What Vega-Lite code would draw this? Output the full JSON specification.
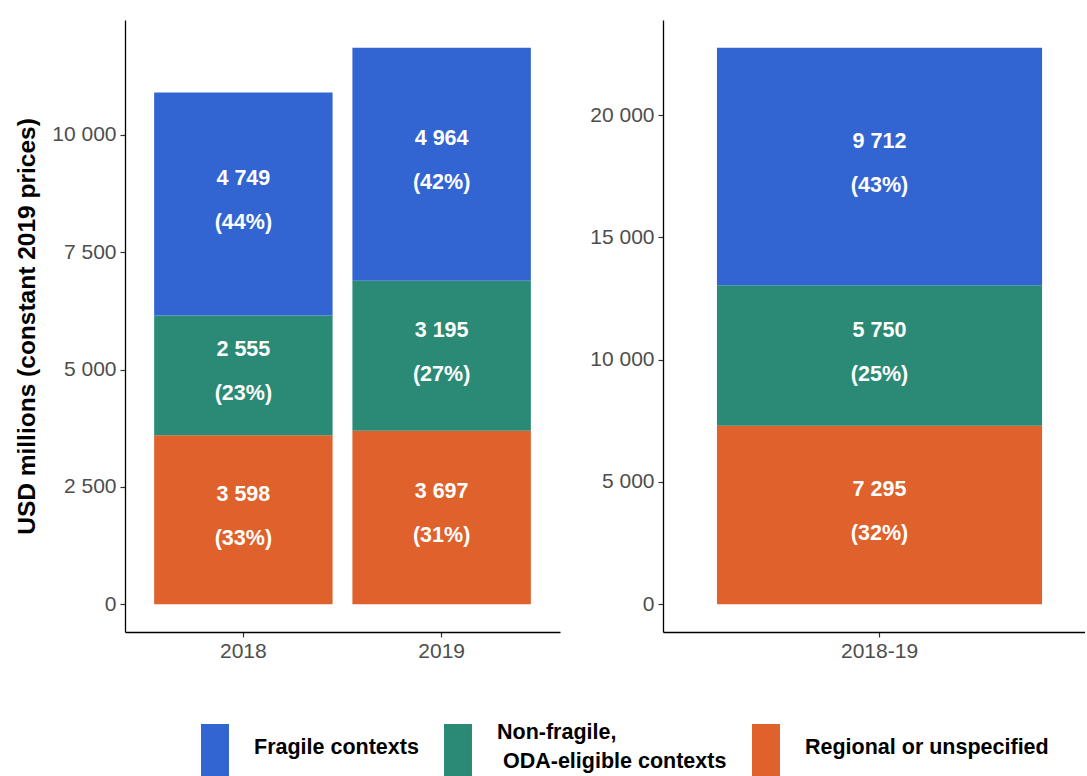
{
  "$schema": "https://vega.github.io/schema/vega-lite/v6.json",
  "autosize": {"type": "pad"},
  "padding": {"left": 14, "top": 20, "right": 0, "bottom": 0},
  "background": "white",
  "datasets": {
    "years": [
      {"period": "2018", "category": "Regional or unspecified", "value": 3598, "share": "(33%)"},
      {"period": "2018", "category": "Non-fragile, ODA-eligible contexts", "value": 2555, "share": "(23%)"},
      {"period": "2018", "category": "Fragile contexts", "value": 4749, "share": "(44%)"},
      {"period": "2019", "category": "Regional or unspecified", "value": 3697, "share": "(31%)"},
      {"period": "2019", "category": "Non-fragile, ODA-eligible contexts", "value": 3195, "share": "(27%)"},
      {"period": "2019", "category": "Fragile contexts", "value": 4964, "share": "(42%)"}
    ],
    "total": [
      {"period": "2018-19", "category": "Regional or unspecified", "value": 7295, "share": "(32%)"},
      {"period": "2018-19", "category": "Non-fragile, ODA-eligible contexts", "value": 5750, "share": "(25%)"},
      {"period": "2018-19", "category": "Fragile contexts", "value": 9712, "share": "(43%)"}
    ]
  },
  "spacing": 103,
  "bounds": "flush",
  "resolve": {"scale": {"color": "shared", "y": "independent", "x": "independent"}, "legend": {"color": "shared"}},
  "hconcat": [
    {
      "width": 435,
      "height": 612,
      "data": {"name": "years"},
      "transform": [
        {"stack": "value", "groupby": ["period"], "sort": [{"field": "category", "order": "descending"}], "as": ["y0", "y1"]},
        {"calculate": "(datum.y0 + datum.y1) / 2", "as": "mid"}
      ],
      "encoding": {
        "x": {"field": "period", "type": "nominal", "title": null,
              "scale": {"paddingInner": 0.1, "paddingOuter": 0.147},
              "axis": {"labelAngle": 0}}
      },
      "layer": [
        {
          "mark": {"type": "bar", "strokeWidth": 0},
          "encoding": {
            "y": {"field": "y0", "type": "quantitative", "title": "USD millions (constant 2019 prices)",
                  "scale": {"domain": [-593, 12449], "nice": false, "zero": false},
                  "axis": {"values": [0, 2500, 5000, 7500, 10000], "format": ",d"}},
            "y2": {"field": "y1"},
            "color": {"field": "category", "type": "nominal",
                      "scale": {"domain": ["Fragile contexts", "Non-fragile, ODA-eligible contexts", "Regional or unspecified"],
                                "range": ["#3265D2", "#2A8A76", "#DF612B"]},
                      "legend": {"orient": "none", "legendX": 64, "legendY": 698, "direction": "horizontal", "columns": 3,
                                 "title": null, "symbolType": "M-0.538,-0.77H0.538V1.23H-0.538Z", "symbolSize": 2704,
                                 "symbolStrokeWidth": 0, "symbolOpacity": 1, "labelFont": "Liberation Sans",
                                 "labelFontSize": 21.5, "labelFontWeight": "bold", "labelColor": "black",
                                 "labelBaseline": "bottom",
                                 "labelOffset": 13, "columnPadding": 13, "labelLimit": 400, "padding": 0,
                                 "labelExpr": "datum.label == 'Non-fragile, ODA-eligible contexts' ? ['Non-fragile,', '\u200b', '\u200b\u00a0ODA-eligible contexts'] : ['\u200b', datum.label, '\u200b']"}}
          }
        },
        {
          "mark": {"type": "text", "dy": -25, "color": "white", "fontWeight": "bold", "fontSize": 21.5, "font": "Liberation Sans", "baseline": "middle", "align": "center"},
          "encoding": {
            "y": {"field": "mid", "type": "quantitative", "title": "USD millions (constant 2019 prices)"},
            "text": {"field": "value", "type": "quantitative", "format": ",d"}
          }
        },
        {
          "mark": {"type": "text", "dy": 19, "color": "white", "fontWeight": "bold", "fontSize": 21.5, "font": "Liberation Sans", "baseline": "middle", "align": "center"},
          "encoding": {
            "y": {"field": "mid", "type": "quantitative", "title": "USD millions (constant 2019 prices)"},
            "text": {"field": "share", "type": "nominal"}
          }
        }
      ]
    },
    {
      "width": 422,
      "height": 612,
      "data": {"name": "total"},
      "transform": [
        {"stack": "value", "groupby": ["period"], "sort": [{"field": "category", "order": "descending"}], "as": ["y0", "y1"]},
        {"calculate": "(datum.y0 + datum.y1) / 2", "as": "mid"}
      ],
      "encoding": {
        "x": {"field": "period", "type": "nominal", "title": null,
              "scale": {"paddingInner": 0, "paddingOuter": 0.149, "align": 0.557},
              "axis": {"labelAngle": 0}}
      },
      "layer": [
        {
          "mark": {"type": "bar", "strokeWidth": 0},
          "encoding": {
            "y": {"field": "y0", "type": "quantitative", "title": null,
                  "scale": {"domain": [-1138, 23895], "nice": false, "zero": false},
                  "axis": {"values": [0, 5000, 10000, 15000, 20000], "format": ",d"}},
            "y2": {"field": "y1"},
            "color": {"field": "category", "type": "nominal",
                      "scale": {"domain": ["Fragile contexts", "Non-fragile, ODA-eligible contexts", "Regional or unspecified"],
                                "range": ["#3265D2", "#2A8A76", "#DF612B"]},
                      "legend": {"orient": "none", "legendX": 64, "legendY": 698, "direction": "horizontal", "columns": 3,
                                 "title": null, "symbolType": "M-0.538,-0.77H0.538V1.23H-0.538Z", "symbolSize": 2704,
                                 "symbolStrokeWidth": 0, "symbolOpacity": 1, "labelFont": "Liberation Sans",
                                 "labelFontSize": 21.5, "labelFontWeight": "bold", "labelColor": "black",
                                 "labelBaseline": "bottom",
                                 "labelOffset": 13, "columnPadding": 13, "labelLimit": 400, "padding": 0,
                                 "labelExpr": "datum.label == 'Non-fragile, ODA-eligible contexts' ? ['Non-fragile,', '\u200b', '\u200b\u00a0ODA-eligible contexts'] : ['\u200b', datum.label, '\u200b']"}}
          }
        },
        {
          "mark": {"type": "text", "dy": -25, "color": "white", "fontWeight": "bold", "fontSize": 21.5, "font": "Liberation Sans", "baseline": "middle", "align": "center"},
          "encoding": {
            "y": {"field": "mid", "type": "quantitative", "title": null},
            "text": {"field": "value", "type": "quantitative", "format": ",d"}
          }
        },
        {
          "mark": {"type": "text", "dy": 19, "color": "white", "fontWeight": "bold", "fontSize": 21.5, "font": "Liberation Sans", "baseline": "middle", "align": "center"},
          "encoding": {
            "y": {"field": "mid", "type": "quantitative", "title": null},
            "text": {"field": "share", "type": "nominal"}
          }
        }
      ]
    }
  ],
  "config": {
    "font": "Liberation Sans",
    "view": {"stroke": null},
    "axis": {"domainColor": "black", "domainWidth": 1.3, "tickColor": "#333333", "tickWidth": 1.2, "tickSize": 5,
             "labelColor": "#4d4d4d", "labelFontSize": 21, "labelFont": "Liberation Sans", "grid": false,
             "titleFont": "Liberation Sans", "titleFontSize": 24.5, "titleFontWeight": "bold", "titleColor": "black"},
    "axisX": {"labelPadding": 3, "labelAngle": 0},
    "axisY": {"labelPadding": 4, "titlePadding": 12},
    "locale": {"number": {"decimal": ".", "thousands": " ", "grouping": [3], "currency": ["", ""]}},
    "style": {"guide-label": {"lineHeight": 14.5}}
  }
}
